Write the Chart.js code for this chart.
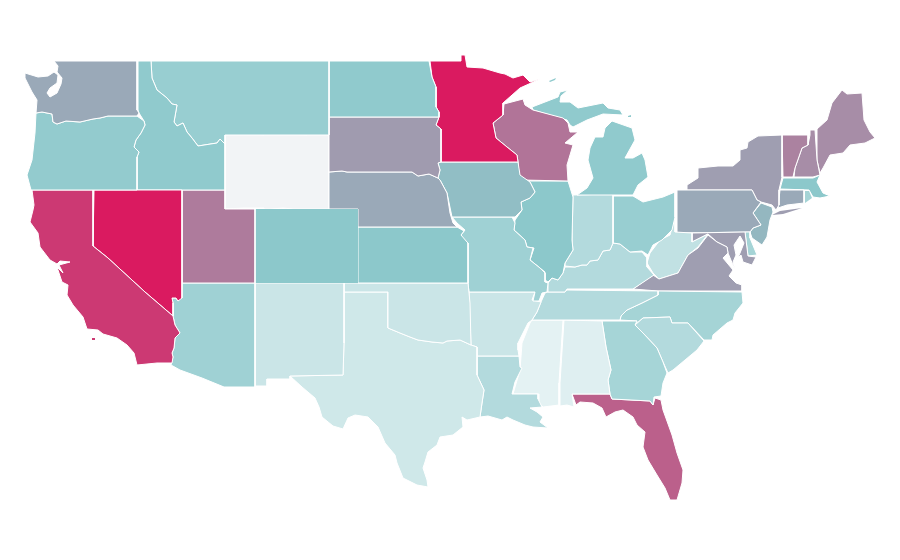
<!DOCTYPE html>
<html>
<head>
<meta charset="utf-8">
<title>US states</title>
<script src="https://cdn.jsdelivr.net/npm/chart.js@4"></script>
<style>
  html, body { margin: 0; padding: 0; background: #fff; }
  canvas { display: block; }
</style>
</head>
<body>
<canvas id="chart" width="900" height="560"></canvas>
<script>
// one entry per state, same order in all three arrays
const states = ['WA','OR','CA','NV','ID','MT','UT','AZ','CO','NM','ND','SD','NE','KS','OK','TX','MN','IA','MO','AR','LA','WI','IL','MI','IN','OH','KY','TN','MS','AL','GA','FL','SC','NC','VA','WV','MD','DE','PA','NJ','NY','CT','RI','MA','VT','NH','ME','WY'];

// 0 = palest, 50 = teal, 100 = crimson, null = no data
const values = [59,46,91,100,48,43,72,39,50,15,48,63,59,50,15,12,100,53,39,15,28,74,50,48,28,43,28,28,0,3,35,80,28,36,62,20,62,36,59,55,62,59,36,50,70,67,67,null];

// outlines in map units, a state can have more than one ring
const outlines = [
  [[[54,61],[137,61],[137,110],[139,113],[137,116],[108,116],[100,118],[93,119],[80,122],[66,121],[57,124],[53,122],[52,114],[42,112],[36,113],[37,100],[32,92],[25,78],[25,73],[38,77],[48,76],[54,72],[58,75],[57,83],[50,88],[47,93],[50,97],[57,93],[61,84],[62,78],[57,72],[58,66]]],
  [[[36,113],[42,112],[52,114],[53,122],[57,124],[66,121],[80,122],[93,119],[100,118],[108,116],[137,116],[144,121],[145,125],[141,133],[136,140],[134,147],[139,152],[137,157],[137,190],[31,190],[27,175],[32,160],[35,133]]],
  [[[32,190],[93,190],[93,246],[108,258],[145,292],[173,316],[175,325],[180,333],[175,338],[174,348],[172,353],[173,357],[172,363],[157,363],[137,365],[134,353],[127,345],[117,338],[103,334],[98,330],[87,329],[83,317],[73,305],[67,295],[68,285],[62,282],[57,267],[63,273],[59,265],[70,262],[60,261],[57,264],[50,260],[40,247],[38,233],[30,222],[33,210],[34,205]],[[92,338],[95,338],[95,340],[92,340]]],
  [[[94,190],[182,190],[182,298],[178,301],[176,298],[172,298],[173,303],[173,316],[145,292],[108,258],[93,246]]],
  [[[138,61],[151,61],[152,78],[157,90],[167,98],[172,104],[177,105],[174,122],[177,126],[183,123],[187,132],[192,138],[198,146],[217,143],[220,139],[225,144],[225,190],[137,190],[137,157],[139,152],[134,147],[136,140],[141,133],[145,125],[144,121],[139,113],[138,110]]],
  [[[151,61],[329,61],[329,135],[225,135],[225,144],[220,139],[217,143],[198,146],[192,138],[187,132],[183,123],[177,126],[174,122],[177,105],[172,104],[167,98],[157,90],[152,78]]],
  [[[182,190],[225,190],[225,209],[255,209],[255,283],[182,283]]],
  [[[182,283],[255,283],[255,387],[224,387],[202,378],[180,370],[171,365],[173,357],[172,353],[174,348],[175,338],[180,333],[175,325],[173,316],[173,303],[172,298],[176,298],[178,301],[181,298]]],
  [[[255,209],[358,209],[358,283],[255,283]]],
  [[[255,283],[344,283],[344,343],[343,375],[290,376],[290,379],[267,379],[267,386],[255,386]]],
  [[[329,61],[429,61],[432,77],[436,87],[436,107],[439,112],[439,117],[329,117]]],
  [[[329,117],[439,117],[436,125],[441,129],[441,162],[438,163],[440,170],[438,178],[429,174],[418,176],[412,172],[347,172],[342,171],[329,172]]],
  [[[329,172],[342,171],[347,172],[412,172],[418,176],[429,174],[438,178],[440,180],[447,193],[450,213],[453,223],[457,227],[358,227],[358,209],[329,209]]],
  [[[358,227],[457,227],[464,231],[461,235],[467,242],[468,243],[468,283],[358,283]]],
  [[[344,283],[468,283],[470,303],[471,345],[460,340],[447,341],[443,343],[432,342],[418,340],[410,337],[400,333],[388,328],[388,292],[344,292]]],
  [[[344,292],[388,292],[388,328],[400,333],[410,337],[418,340],[432,342],[443,343],[447,341],[460,340],[471,345],[477,347],[477,375],[484,390],[482,403],[480,417],[467,420],[462,417],[463,427],[453,435],[440,437],[437,445],[428,452],[425,462],[423,468],[427,480],[428,487],[417,485],[403,478],[397,463],[395,455],[385,443],[378,427],[368,417],[355,415],[348,418],[343,429],[333,426],[322,417],[319,407],[315,398],[302,387],[290,376],[343,375],[344,343]]],
  [[[430,61],[461,61],[461,55],[465,55],[467,67],[483,68],[500,73],[505,74],[513,78],[523,75],[530,82],[540,79],[520,88],[503,103],[503,115],[493,123],[496,138],[507,147],[517,155],[518,162],[441,162],[441,129],[436,125],[439,117],[439,112],[436,107],[436,87],[432,77]]],
  [[[441,162],[518,162],[520,175],[530,182],[535,192],[530,198],[521,202],[522,210],[515,217],[452,217],[447,193],[440,180],[438,178],[440,170],[438,163]]],
  [[[452,217],[512,217],[515,223],[514,230],[525,240],[527,247],[533,248],[530,260],[540,268],[545,273],[545,282],[548,283],[547,292],[542,293],[539,301],[533,301],[535,292],[469,292],[468,283],[468,243],[462,240],[461,235],[465,230],[457,223]]],
  [[[469,292],[535,292],[532,300],[541,302],[537,312],[532,320],[528,323],[522,335],[518,343],[518,350],[519,356],[477,356],[477,347],[471,345]]],
  [[[477,356],[519,356],[520,367],[522,368],[515,382],[512,394],[538,394],[538,399],[542,407],[530,408],[537,412],[543,417],[540,422],[548,428],[533,427],[525,425],[513,420],[507,417],[502,420],[488,416],[480,417],[482,403],[484,390],[477,375]]],
  [[[504,104],[523,99],[525,105],[533,110],[563,118],[568,123],[570,132],[578,132],[565,143],[573,145],[567,165],[568,181],[522,180],[519,175],[518,162],[517,155],[507,147],[496,138],[493,123],[503,115]]],
  [[[522,181],[568,181],[573,197],[572,240],[573,250],[565,263],[563,273],[558,280],[552,278],[548,282],[545,280],[545,272],[530,260],[534,248],[527,247],[525,240],[514,230],[515,220],[522,210],[521,202],[530,198],[535,192],[530,182]]],
  [[[532,107],[558,97],[560,92],[568,90],[561,96],[560,102],[570,102],[578,108],[603,103],[608,108],[620,110],[623,115],[603,114],[587,120],[573,127],[570,125],[567,120],[533,110]],[[577,195],[587,188],[593,178],[588,160],[590,148],[595,137],[603,137],[605,128],[612,121],[632,128],[635,140],[625,158],[633,158],[642,153],[645,160],[648,177],[638,185],[633,195]],[[549,81],[556,78],[555,80],[550,82]],[[628,116],[631,115],[631,117],[628,117]]],
  [[[573,195],[613,194],[613,243],[610,250],[603,251],[598,260],[590,261],[587,265],[582,265],[575,267],[565,266],[565,263],[573,250],[572,240]]],
  [[[613,196],[633,196],[643,202],[663,197],[675,192],[675,217],[672,230],[662,240],[653,245],[648,255],[642,251],[630,252],[620,244],[613,243]]],
  [[[565,267],[575,267],[582,265],[587,265],[590,261],[598,260],[603,251],[610,250],[613,243],[620,244],[630,252],[642,252],[647,258],[647,267],[654,275],[633,289],[567,289],[565,292],[548,292],[548,283],[552,278],[558,280],[563,273]]],
  [[[548,292],[565,292],[567,290],[658,291],[658,295],[642,303],[627,310],[621,316],[620,320],[532,320],[537,312],[541,302],[545,293]]],
  [[[532,320],[563,320],[559,383],[559,405],[543,407],[539,403],[539,394],[513,394],[520,370],[522,343],[530,323]]],
  [[[564,320],[602,321],[606,347],[611,370],[608,380],[610,394],[572,394],[574,407],[567,405],[560,406],[560,383]]],
  [[[602,321],[637,321],[635,325],[643,333],[657,348],[663,362],[667,373],[663,383],[661,396],[654,397],[653,405],[650,401],[612,399],[610,394],[608,380],[611,370],[606,347]]],
  [[[572,394],[610,394],[612,399],[650,401],[653,405],[655,398],[661,400],[663,410],[672,435],[677,453],[683,470],[682,483],[677,500],[670,500],[665,488],[657,475],[648,460],[643,447],[645,432],[637,425],[633,417],[623,410],[615,412],[606,417],[602,408],[593,403],[580,402],[576,405]]],
  [[[635,325],[643,318],[670,317],[672,323],[688,323],[704,341],[697,350],[685,360],[673,370],[668,373],[663,362],[657,348],[643,333]]],
  [[[658,291],[742,292],[743,303],[735,313],[733,320],[727,323],[713,335],[712,340],[704,340],[688,323],[672,323],[670,317],[643,318],[635,325],[637,321],[620,320],[621,316],[627,310],[642,303],[658,295]]],
  [[[633,289],[653,275],[659,279],[678,273],[688,255],[698,248],[708,235],[717,242],[727,247],[728,253],[723,258],[733,270],[729,276],[736,283],[742,285],[742,291],[658,291]]],
  [[[675,217],[675,232],[692,233],[692,242],[708,234],[698,247],[688,255],[678,273],[659,279],[653,273],[647,263],[650,253],[660,240],[670,235]]],
  [[[692,233],[745,232],[748,256],[756,257],[752,265],[743,262],[741,255],[738,258],[744,243],[740,236],[734,245],[736,255],[733,262],[735,270],[728,253],[727,247],[717,242],[708,234],[692,242]]],
  [[[745,232],[750,232],[750,238],[757,255],[748,256]]],
  [[[677,190],[752,190],[757,200],[761,202],[753,213],[761,225],[753,228],[750,232],[677,233]]],
  [[[761,203],[772,207],[773,212],[770,220],[767,237],[762,245],[752,238],[750,232],[753,228],[761,225],[753,213]]],
  [[[687,190],[687,185],[698,178],[698,168],[718,166],[733,166],[740,160],[740,150],[747,148],[748,142],[758,136],[782,135],[782,177],[779,190],[779,205],[776,210],[772,205],[761,202],[757,200],[752,190]],[[772,215],[780,211],[802,208],[783,214]]],
  [[[780,190],[804,190],[804,203],[787,205],[778,208]]],
  [[[805,191],[809,191],[812,198],[805,203]]],
  [[[783,178],[813,178],[820,175],[817,182],[823,193],[830,196],[820,198],[813,197],[809,190],[780,189]]],
  [[[782,135],[808,135],[808,145],[802,148],[795,168],[793,177],[783,177]]],
  [[[810,130],[815,130],[817,160],[820,175],[813,177],[794,177],[795,168],[802,148],[808,145],[810,135]]],
  [[[817,129],[827,120],[832,103],[842,90],[847,94],[862,93],[864,120],[870,132],[875,138],[865,143],[850,145],[843,153],[830,155],[823,168],[820,173],[817,160]]],
  [[[225,135],[235,134],[253,134],[264,135],[264,134],[285,134],[307,135],[307,134],[322,134],[329,135],[329,209],[293,209],[283,208],[271,209],[264,209],[264,208],[244,208],[225,209]]]
];

const noDataColor = '#f2f4f6';
const stops = [[228,242,243],[140,200,203],[218,26,96]];

function colorFor(v) {
  if (v === null) return noDataColor;
  const seg = v < 50 ? 0 : 1;
  const t = seg === 0 ? v / 50 : (v - 50) / 50;
  const c = stops[seg].map((a, i) => Math.round(a + (stops[seg + 1][i] - a) * t));
  return 'rgb(' + c.join(',') + ')';
}

const datasets = [];
states.forEach((name, i) => {
  outlines[i].forEach(ring => {
    datasets.push({
      label: name,
      data: ring.concat([ring[0]]).map(p => ({ x: p[0], y: p[1] })),
      showLine: true,
      fill: 'shape',
      backgroundColor: colorFor(values[i]),
      borderColor: '#ffffff',
      borderWidth: ring.length < 5 ? 0 : 1,
      pointRadius: 0,
      tension: 0
    });
  });
});

new Chart(document.getElementById('chart').getContext('2d'), {
  type: 'scatter',
  data: { datasets },
  options: {
    responsive: false,
    animation: false,
    layout: { padding: 0 },
    plugins: { legend: { display: false }, tooltip: { enabled: false } },
    scales: {
      x: { display: false, min: 0, max: 900 },
      y: { display: false, min: 0, max: 560, reverse: true }
    }
  }
});
</script>
</body>
</html>
